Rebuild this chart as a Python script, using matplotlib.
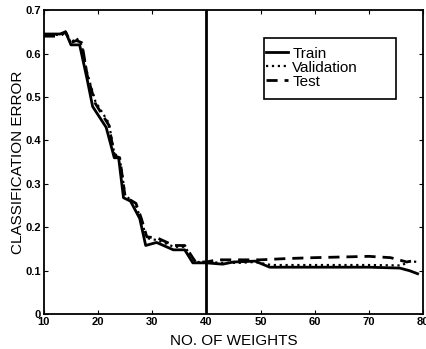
import numpy as np
import matplotlib.pyplot as plt
from matplotlib.patches import Rectangle

plt.rcParams['font.family'] = ['Liberation Sans', 'DejaVu Sans']

# values
train_x = [10, 13, 14, 15, 16.6, 18, 19, 21.5, 23, 23.8, 24.7, 26, 27.7, 28.8, 30.8, 33.9, 36, 37.5, 40, 43, 45, 49, 51.7, 60, 70, 75.7, 77.5, 79]
train_y = [0.645, 0.645, 0.65, 0.62, 0.62, 0.54, 0.478, 0.43, 0.36, 0.36, 0.268, 0.26, 0.22, 0.158, 0.165, 0.148, 0.148, 0.118, 0.118, 0.115, 0.12, 0.122, 0.108, 0.108, 0.108, 0.106, 0.1, 0.093]

val_x = [10, 13, 14, 15, 16, 17, 18, 19.5, 22, 23, 24, 25, 27, 28, 29, 31, 34, 36, 38, 40, 43, 46, 49, 52, 60, 70, 76, 77.6, 79]
val_y = [0.643, 0.643, 0.648, 0.625, 0.636, 0.62, 0.555, 0.49, 0.44, 0.37, 0.36, 0.275, 0.25, 0.215, 0.175, 0.17, 0.155, 0.155, 0.12, 0.12, 0.118, 0.118, 0.12, 0.113, 0.113, 0.113, 0.112, 0.122, 0.12]

test_x = [10, 13, 14, 15, 16, 17, 18, 19.5, 22, 23, 24, 25, 27, 28, 29, 31, 34, 36, 38, 40, 42, 45, 50, 55, 60, 70, 74, 77, 79]
test_y = [0.64, 0.64, 0.65, 0.625, 0.63, 0.625, 0.55, 0.485, 0.435, 0.365, 0.36, 0.27, 0.255, 0.22, 0.178, 0.175, 0.158, 0.158, 0.12, 0.12, 0.125, 0.125, 0.125, 0.128, 0.13, 0.133, 0.13, 0.12, 0.125]

stop_x = 40

fig = plt.figure(figsize=(4.26, 3.49), dpi=100)
ax = fig.add_axes([0.103, 0.1, 0.89, 0.871])

ax.plot(train_x, train_y, color='black', lw=2, linestyle='-', label='Train')
ax.plot(val_x, val_y, color='black', lw=1.6, linestyle=':', label='Validation')
ax.plot(test_x, test_y, color='black', lw=2, linestyle=(0, (4, 2.5)), label='Test')
ax.axvline(stop_x, color='black', lw=2)

ax.set_xlim(10, 80)
ax.set_ylim(0, 0.7)
ax.set_xticks(np.arange(10, 81, 10))
ax.set_yticks(np.arange(0, 0.71, 0.1))
ax.set_yticklabels(['0', '0.1', '0.2', '0.3', '0.4', '0.5', '0.6', '0.7'])
ax.tick_params(direction='in', top=True, right=True, labelsize=8, length=3, pad=2)
for lab in ax.get_xticklabels() + ax.get_yticklabels():
    lab.set_fontweight('bold')
for s in ax.spines.values():
    s.set_linewidth(1.3)

ax.set_xlabel('NO. OF WEIGHTS', fontsize=11, labelpad=5)
ax.set_ylabel('CLASSIFICATION ERROR', fontsize=11, labelpad=0)

# legend box drawn separately (wide MATLAB-style frame)
ax.add_patch(Rectangle((0.580, 0.707), 0.349, 0.201, transform=ax.transAxes,
                       facecolor='white', edgecolor='black', lw=1.2, zorder=4))
leg = ax.legend(loc='upper left', bbox_to_anchor=(0.585, 0.88), fontsize=11,
                frameon=False, handlelength=1.45, handletextpad=0.3,
                labelspacing=0.0, borderpad=0, borderaxespad=0)
leg.set_zorder(5)

fig.savefig('out.png', dpi=100)
